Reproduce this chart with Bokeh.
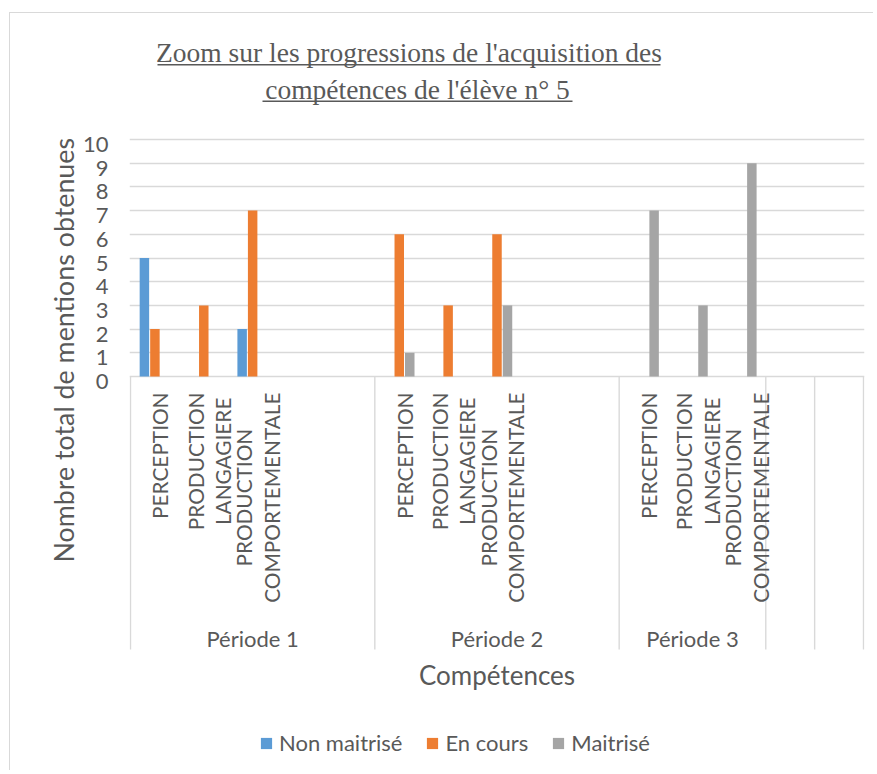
import math
from bokeh.plotting import figure
from bokeh.models import (ColumnDataSource, FixedTicker, Range1d, Legend, LegendItem,
                          LinearAxis, Grid, Title)
from bokeh.core.properties import value
from bokeh.transform import dodge
from bokeh.embed import file_html
from bokeh.resources import INLINE

# ---------------- data ----------------
periods = ["Période 1", "Période 2", "Période 3", "", ""]
period_sizes = [5, 5, 3, 1, 1]
competences = [
    "PERCEPTION", "PRODUCTION\nLANGAGIERE", "PRODUCTION\nCOMPORTEMENTALE", "", "",
    "PERCEPTION", "PRODUCTION\nLANGAGIERE", "PRODUCTION\nCOMPORTEMENTALE", "", "",
    "PERCEPTION", "PRODUCTION\nLANGAGIERE", "PRODUCTION\nCOMPORTEMENTALE",
    "",
    "",
]
non_maitrise = [5, 0, 2, 0, 0, 0, 0, 0, 0, 0, 0, 0, 0, 0, 0]
en_cours = [2, 3, 7, 0, 0, 6, 3, 6, 0, 0, 0, 0, 0, 0, 0]
maitrise = [0, 0, 0, 0, 0, 1, 0, 3, 0, 0, 7, 3, 9, 0, 0]
series_names = ["Non maitrisé", "En cours", "Maitrisé"]
series_colors = ["#5B9BD5", "#ED7D31", "#A5A5A5"]
y_ticks = list(range(0, 11))
title_lines = ["Zoom sur les progressions de l'acquisition des",
               "compétences de l'élève n° 5"]
x_title = "Compétences"
y_title = "Nombre total de mentions  obtenues"

# ---------------- layout (page pixels) ----------------
W, H = 864, 758
MARGIN_L, MARGIN_T = 9, 12
ORIGIN_X, ORIGIN_Y = MARGIN_L + 1, MARGIN_T + 1   # page position of the canvas
FRAME_L, FRAME_R, FRAME_T, FRAME_B = 129, 864, 20, 768
ZERO_Y, TOP_Y = 376, 139             # pixel rows of value 0 and value 10
PAD_X = 0.02
LABEL_DROP = 5                        # tick labels sit a little below their gridline
Y_TITLE_START = 562                   # pixel row where the y title starts (bottom)
TEXT = "#595959"
GRID = "#D9D9D9"
SANS = "Lato"
SERIF = "Liberation Serif"

n_cat = len(competences)
ppu_y = (ZERO_Y - TOP_Y) / max(y_ticks)
ppu_x = (FRAME_R - FRAME_L) / (n_cat + 2 * PAD_X)


def xpx(px):
    return (px - FRAME_L) / ppu_x - PAD_X


def ypx(py):
    return (ZERO_Y - py) / ppu_y


y0, y1 = ypx(FRAME_B), ypx(FRAME_T)
p = figure(
    width=W, height=H,
    x_range=Range1d(-PAD_X, n_cat + PAD_X),
    y_range=Range1d(y0, y1),
    output_backend="svg", toolbar_location=None,
    x_axis_location=None, y_axis_location=None,
    min_border_left=FRAME_L - ORIGIN_X,
    min_border_right=W - (FRAME_R - ORIGIN_X),
    min_border_top=FRAME_T - ORIGIN_Y,
    min_border_bottom=H - (FRAME_B - ORIGIN_Y),
)
p.styles = {"border-left": f"1px solid {GRID}", "border-top": f"1px solid {GRID}",
            "margin-left": f"{MARGIN_L}px", "margin-top": f"{MARGIN_T}px"}
p.outline_line_color = None
p.background_fill_color = "white"
p.border_fill_color = "white"
for g in p.grid:
    g.visible = False

# value axis: labels drawn on a range shifted by a few pixels
d = LABEL_DROP / ppu_y
p.extra_y_ranges = {"lab": Range1d(y0 + d, y1 + d)}
ax = LinearAxis(y_range_name="lab", ticker=FixedTicker(ticks=y_ticks))
ax.axis_line_color = None
ax.major_tick_line_color = None
ax.minor_tick_line_color = None
ax.major_tick_out = 0
ax.major_tick_in = 0
ax.major_label_standoff = 21
ax.major_label_text_font = SANS
ax.major_label_text_font_size = "22px"
ax.major_label_text_color = TEXT
p.add_layout(ax, "left")

p.add_layout(Title(text=y_title, align="left", offset=FRAME_B - Y_TITLE_START,
                   standoff=0, text_font=SANS, text_font_size="26.8px",
                   text_font_style="normal", text_color=TEXT), "left")

p.add_layout(Grid(dimension=1, ticker=FixedTicker(ticks=y_ticks),
                  grid_line_color=GRID, grid_line_width=1.4))

# ---------------- bars ----------------
centers = [i + 0.5 for i in range(n_cat)]
src = ColumnDataSource(dict(x=centers, nm=non_maitrise, ec=en_cours, ma=maitrise,
                            lab=competences))
offsets = [-0.215, 0.0, 0.215]
renderers = []
for col, off, color in zip(["nm", "ec", "ma"], offsets, series_colors):
    r = p.vbar(x=dodge("x", off, range=p.x_range), top=col, bottom=0, width=0.194,
               source=src, fill_color=color, line_color=None)
    renderers.append(r)

# ---------------- category axis (two levels) ----------------
bounds = [0]
for s in period_sizes:
    bounds.append(bounds[-1] + s)
sep_bottom = ypx(649)
p.segment(x0=bounds, y0=[0] * len(bounds), x1=bounds, y1=[sep_bottom] * len(bounds),
          line_color=GRID, line_width=1.4)

p.text(x="x", y=0, text="lab", source=src, angle=math.pi / 2,
       anchor="center_right", text_align="center",
       x_offset=5, y_offset=16,
       text_font=value(SANS), text_font_size="20.8px", text_color=TEXT,
       text_line_height=1.1)

group_centers = [(a + b) / 2 for a, b in zip(bounds[:-1], bounds[1:])]
p.text(x=group_centers, y=[ypx(637.5)] * len(periods), text=periods,
       text_align="center", text_baseline="middle",
       text_font=value(SANS), text_font_size="22px", text_color=TEXT)

p.text(x=[n_cat / 2], y=[ypx(674)], text=[x_title],
       text_align="center", text_baseline="middle",
       text_font=value(SANS), text_font_size="26px", text_color=TEXT)

# ---------------- title (underlined) ----------------
title_centers = [408.5, 417]
title_baselines = [61.7, 98.3]
title_widths = [503, 310]
p.text(x=[xpx(c) for c in title_centers], y=[ypx(b - 9.3) for b in title_baselines],
       text=title_lines, text_align="center", text_baseline="middle",
       text_font=value(SERIF), text_font_size="27.5px", text_color=TEXT)
p.segment(x0=[xpx(c - w / 2) for c, w in zip(title_centers, title_widths)],
          x1=[xpx(c + w / 2) for c, w in zip(title_centers, title_widths)],
          y0=[ypx(b + 2.5) for b in title_baselines],
          y1=[ypx(b + 2.5) for b in title_baselines],
          line_color=TEXT, line_width=1.5)

# ---------------- legend ----------------
legend = Legend(items=[LegendItem(label=n, renderers=[r]) for n, r in zip(series_names, renderers)],
                orientation="horizontal", location=(259 - FRAME_L, FRAME_B - 756),
                glyph_width=14, glyph_height=14, label_standoff=6, spacing=23,
                padding=0, margin=0, border_line_color=None, background_fill_alpha=0,
                label_text_font=SANS, label_text_font_size="22px", label_text_color=TEXT)
p.add_layout(legend)

open("out.html", "w").write(file_html(p, INLINE))
